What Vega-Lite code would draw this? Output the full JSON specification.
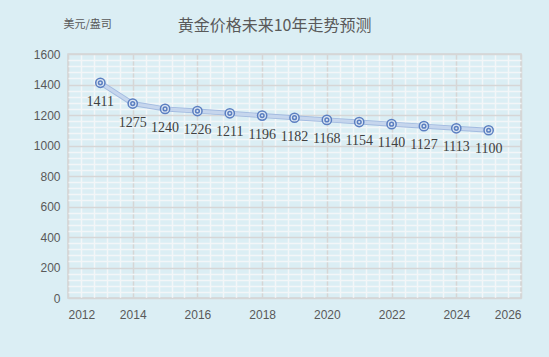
{
  "$schema": "https://vega.github.io/schema/vega-lite/v6.json",
  "width": 453,
  "height": 244,
  "autosize": {"type": "none"},
  "padding": {"left": 68, "top": 54, "right": 28, "bottom": 59},
  "background": "#DBEEF4",
  "config": {
    "view": {"stroke": "#D4D4D4", "strokeWidth": 1.5, "fill": "#DBEEF4"},
    "axis": {"labelFont": "Liberation Sans", "labelFontSize": 12, "labelColor": "#595959", "ticks": false, "domain": false}
  },
  "title": {
    "text": "黄金价格未来10年走势预测",
    "font": "Noto Sans CJK SC",
    "fontSize": 16,
    "fontWeight": "normal",
    "color": "#595959",
    "anchor": "middle",
    "frame": "group",
    "dx": -20,
    "offset": -16
  },
  "data": {
    "values": [
      {"year": 2013, "price": 1411},
      {"year": 2014, "price": 1275},
      {"year": 2015, "price": 1240},
      {"year": 2016, "price": 1226},
      {"year": 2017, "price": 1211},
      {"year": 2018, "price": 1196},
      {"year": 2019, "price": 1182},
      {"year": 2020, "price": 1168},
      {"year": 2021, "price": 1154},
      {"year": 2022, "price": 1140},
      {"year": 2023, "price": 1127},
      {"year": 2024, "price": 1113},
      {"year": 2025, "price": 1100}
    ]
  },
  "resolve": {"axis": {"x": "independent", "y": "independent"}},
  "layer": [
    {
      "mark": {"type": "line", "color": "#A3BBE0", "strokeWidth": 5},
      "encoding": {
        "x": {"field": "year", "type": "quantitative", "scale": {"domain": [2012, 2026], "nice": false, "zero": false},
          "axis": {"orient": "top", "title": null, "labels": false, "grid": true, "gridColor": "#F3F6F8", "gridWidth": 1.5,
            "values": [2012.4, 2012.8, 2013.2, 2013.6, 2014.4, 2014.8, 2015.2, 2015.6, 2016.4, 2016.8, 2017.2, 2017.6, 2018.4, 2018.8, 2019.2, 2019.6, 2020.4, 2020.8, 2021.2, 2021.6, 2022.4, 2022.8, 2023.2, 2023.6, 2024.4, 2024.8, 2025.2, 2025.6]}},
        "y": {"field": "price", "type": "quantitative", "scale": {"domain": [0, 1600], "nice": false},
          "axis": {"orient": "right", "title": null, "labels": false, "grid": true, "gridColor": "#F3F6F8", "gridWidth": 1.5,
            "values": [40, 80, 120, 160, 240, 280, 320, 360, 440, 480, 520, 560, 640, 680, 720, 760, 840, 880, 920, 960, 1040, 1080, 1120, 1160, 1240, 1280, 1320, 1360, 1440, 1480, 1520, 1560]}}
      }
    },
    {
      "mark": {"type": "line", "color": "#C6D6ED", "strokeWidth": 3.2},
      "encoding": {
        "x": {"field": "year", "type": "quantitative",
          "axis": {"orient": "bottom", "title": null, "format": "d", "grid": true, "gridColor": "#D6D6D6", "gridWidth": 1.5, "labelPadding": 11,
            "values": [2012, 2014, 2016, 2018, 2020, 2022, 2024, 2026]}},
        "y": {"field": "price", "type": "quantitative",
          "axis": {"orient": "left", "title": "美元/盎司", "format": "d", "titleAngle": 0, "titleFont": "Noto Sans CJK SC", "titleFontSize": 11, "titleFontWeight": "normal", "titleColor": "#595959", "titleAlign": "left", "titleBaseline": "middle", "titleX": -5, "titleY": -30,
            "grid": true, "gridColor": "#D6D6D6", "gridWidth": 1.5, "labelPadding": 8,
            "values": [0, 200, 400, 600, 800, 1000, 1200, 1400, 1600]}}
      }
    },
    {
      "mark": {"type": "point", "shape": "circle", "size": 85, "filled": true, "fill": "#DCE6F2", "stroke": "#5B7FC1", "strokeWidth": 1.5, "opacity": 1},
      "encoding": {
        "x": {"field": "year", "type": "quantitative", "axis": null},
        "y": {"field": "price", "type": "quantitative", "axis": null}
      }
    },
    {
      "mark": {"type": "point", "shape": "circle", "size": 14, "filled": false, "stroke": "#5B7FC1", "strokeWidth": 1.5, "opacity": 1},
      "encoding": {
        "x": {"field": "year", "type": "quantitative", "axis": null},
        "y": {"field": "price", "type": "quantitative", "axis": null}
      }
    },
    {
      "mark": {"type": "text", "font": "Liberation Serif", "fontSize": 14, "color": "#404040", "dy": 19, "baseline": "middle", "align": "center"},
      "encoding": {
        "x": {"field": "year", "type": "quantitative", "axis": null},
        "y": {"field": "price", "type": "quantitative", "axis": null},
        "text": {"field": "price", "type": "quantitative", "format": "d"}
      }
    }
  ]
}
